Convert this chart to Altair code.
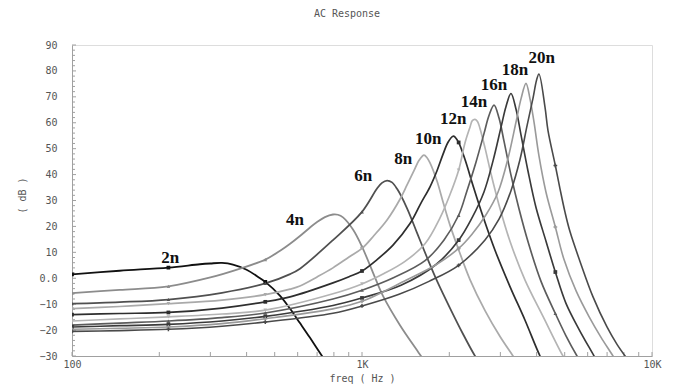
import altair as alt
import pandas as pd

# ---- data (frequency in Hz, magnitude in dB) ----
names = ["2n", "4n", "6n", "8n", "10n", "12n", "14n", "16n", "18n", "20n"]

f_2n = [100, 146, 215, 276, 300, 329, 359, 400, 444, 464, 522, 565, 611, 662, 728, 780]
db_2n = [1.5, 2.9, 4.1, 5.4, 5.7, 5.9, 5.3, 3.3, 0.1, -1.4, -6.8, -11.8, -17.3, -23.0, -30, -35]

f_4n = [100, 146, 215, 300, 380, 464, 522, 565, 611, 662, 700, 745, 794, 826, 860, 931, 1000, 1091, 1181, 1352, 1548, 1620]
db_4n = [-5.7, -4.5, -3.1, 0.3, 3.7, 7.2, 10.6, 13.3, 16.3, 19.6, 21.7, 23.6, 24.6, 24.5, 23.5, 18.8, 12.2, 2.2, -6.8, -18.1, -27.8, -31]

f_6n = [100, 146, 215, 329, 464, 565, 611, 794, 1000, 1127, 1172, 1220, 1269, 1321, 1430, 1548, 1676, 1814, 2011, 2230, 2453, 2552]
db_6n = [-9.8, -9.2, -8.2, -5.6, -2.0, 1.6, 3.7, 14.7, 25.6, 34.6, 36.8, 37.7, 37.0, 34.5, 27.0, 17.5, 8.0, -1.0, -11.5, -21.5, -30, -33]

f_8n = [100, 146, 215, 329, 464, 565, 611, 700, 794, 902, 1000, 1100, 1220, 1352, 1430, 1511, 1573, 1636, 1676, 1716, 1814, 1902, 2011, 2154, 2357, 2656, 2992, 3316, 3500]
db_8n = [-11.7, -10.9, -9.8, -8.4, -6.3, -4.2, -3.0, 0.5, 4.0, 8.2, 11.5, 16.5, 22.5, 30.5, 36.0, 41.5, 45.5, 47.5, 46.5, 44.5, 37.5, 29.5, 20.5, 11.0, -0.5, -12.5, -22.5, -30, -34]

f_10n = [100, 146, 215, 329, 464, 565, 794, 902, 1000, 1127, 1279, 1464, 1597, 1716, 1814, 1902, 1980, 2060, 2100, 2154, 2266, 2414, 2614, 2875, 3238, 3649, 4110, 4400]
db_10n = [-14.0, -13.6, -13.2, -11.5, -9.1, -7.2, -1.8, 0.6, 2.8, 7.2, 12.8, 21.1, 29.0, 35.3, 41.5, 47.8, 52.5, 54.8, 54.3, 52.4, 45.8, 35.8, 23.8, 10.8, -3.2, -16.2, -30, -36]

f_12n = [100, 146, 215, 329, 464, 794, 1000, 1191, 1407, 1649, 1858, 2011, 2154, 2266, 2357, 2401, 2453, 2502, 2552, 2656, 2785, 2968, 3238, 3649, 4209, 4933, 5200]
db_12n = [-16.5, -15.7, -14.9, -13.8, -12.3, -6.0, -2.2, 1.8, 6.5, 13.3, 23.3, 32.3, 41.7, 52.3, 58.3, 60.8, 61.3, 60.5, 57.8, 50.3, 40.3, 28.3, 14.3, -0.7, -14.7, -30, -34]

f_14n = [100, 146, 215, 329, 464, 794, 1000, 1289, 1650, 1918, 2154, 2302, 2472, 2634, 2741, 2853, 2968, 3089, 3264, 3478, 3766, 4143, 4642, 5051, 5513, 5800]
db_14n = [-18.1, -17.3, -16.5, -15.2, -13.4, -8.0, -4.6, 0.3, 6.8, 14.8, 24.3, 33.8, 44.8, 55.8, 62.8, 66.8, 61.8, 52.8, 39.8, 26.8, 12.8, -1.2, -13.6, -22.2, -30, -34]

f_16n = [100, 146, 215, 329, 464, 794, 1000, 1363, 1800, 2154, 2395, 2634, 2830, 3016, 3138, 3264, 3396, 3534, 3737, 3981, 4310, 4642, 5051, 5601, 6310, 6600]
db_16n = [-18.8, -18.3, -17.8, -16.5, -14.7, -10.5, -7.6, -2.7, 5.3, 14.7, 23.3, 33.3, 45.3, 58.3, 66.3, 71.3, 65.3, 55.3, 41.3, 27.3, 14.3, 2.4, -9.7, -19.7, -30, -34]

f_18n = [100, 146, 215, 329, 464, 794, 1000, 1418, 1800, 2154, 2395, 2677, 2944, 3187, 3396, 3534, 3677, 3796, 3919, 4076, 4310, 4642, 4973, 5469, 6065, 6672, 7337, 7700]
db_18n = [-19.7, -19.3, -18.8, -17.5, -15.6, -11.8, -8.9, -0.8, 5.2, 11.5, 17.0, 24.5, 33.2, 46.2, 60.2, 69.2, 75.2, 69.2, 60.2, 47.2, 33.2, 19.8, 7.2, -4.8, -14.8, -22.8, -30, -34]

f_20n = [100, 146, 215, 329, 464, 794, 1000, 1342, 1702, 2154, 2656, 2968, 3264, 3506, 3707, 3888, 4000, 4076, 4276, 4379, 4642, 4817, 5012, 5214, 5646, 6261, 6995, 7574, 8200]
db_20n = [-20.5, -20.2, -19.7, -18.5, -16.9, -13.5, -10.7, -6.2, -1.2, 5.0, 14.8, 22.8, 33.8, 45.8, 58.8, 69.5, 76.5, 78.8, 66.0, 57.0, 43.5, 34.5, 25.5, 18.0, 6.5, -7.2, -18.8, -25.5, -31]

# curve label positions
label_f = [218, 587, 1010, 1388, 1693, 2065, 2434, 2853, 3370, 4165]
label_db = [7.7, 22.4, 39.4, 46.2, 53.6, 61.3, 68.1, 74.5, 80.2, 85.1]

# frequencies carrying the small curve markers (1/3-decade points)
marker_f = [100, 215, 464, 1000, 2154, 4642]

# styling (grayscale, like the original plot)
colors = ["#111111", "#8c8c8c", "#505050", "#aaaaaa", "#2e2e2e",
          "#b4b4b4", "#5c5c5c", "#3a3a3a", "#9a9a9a", "#4a4a4a"]
widths = [1.8, 1.6, 1.6, 1.6, 1.6, 1.5, 1.4, 1.4, 1.2, 1.1]
shapes = ["square", "triangle-up", "triangle-up", "triangle-down", "square",
          "triangle-down", "triangle-up", "square", "cross", "cross"]

x_ticks = [100, 200, 300, 400, 500, 600, 700, 800, 900, 1000,
           2000, 3000, 4000, 5000, 6000, 7000, 8000, 9000, 10000]
x_labels = [100, 1000, 10000]
y_major = list(range(-30, 91, 10))
y_minor = [v for v in range(-30, 91, 2) if v % 10 != 0]

series = {
    "2n": (f_2n, db_2n), "4n": (f_4n, db_4n), "6n": (f_6n, db_6n),
    "8n": (f_8n, db_8n), "10n": (f_10n, db_10n), "12n": (f_12n, db_12n),
    "14n": (f_14n, db_14n), "16n": (f_16n, db_16n), "18n": (f_18n, db_18n),
    "20n": (f_20n, db_20n),
}
rows = []
for i, n in enumerate(names):
    fs, ds = series[n]
    for k, (f, d) in enumerate(zip(fs, ds)):
        rows.append({"curve": n, "order": i * 100 + k, "f": f, "db": d,
                     "marker": (f in marker_f) and (-30 <= d <= 90)})
df = pd.DataFrame(rows)
markers_df = df[df["marker"]].copy()
labels_df = pd.DataFrame({"curve": names, "f": label_f, "db": label_db})

xscale = alt.Scale(type="log", domain=[100, 10000], nice=False)
yscale = alt.Scale(domain=[-30, 90], nice=False, zero=False)
font = "DejaVu Sans Mono"
gray = "#555555"
axis_gray = "#a0a0a0"
color_scale = alt.Scale(domain=names, range=colors)

x_main = alt.Axis(
    orient="bottom", values=x_labels, ticks=False, grid=False, labelFlush=False,
    labelExpr="datum.value >= 10000 ? '10K' : (datum.value >= 1000 ? '1K' : '100')",
    labelFont=font, labelFontSize=10, labelColor=gray, labelPadding=3,
    domainColor=axis_gray, title="freq ( Hz )", titleFont=font,
    titleFontSize=10, titleFontWeight="normal", titleColor=gray,
    titleY=22, titleBaseline="middle",
)
y_main = alt.Axis(
    orient="left", values=y_major, ticks=False, grid=False,
    labelExpr="datum.value == 0 ? '0.0' : replace(format(datum.value, 'd'), '-', '\u2212')",
    labelFont=font, labelFontSize=10, labelColor=gray, labelPadding=15,
    domainColor=axis_gray, title="( dB )", titleFont=font, titleFontSize=10,
    titleFontWeight="normal", titleColor=gray, titleX=-50, titleY=150,
    titleAngle=270, titleAlign="center", titleBaseline="middle",
)

lines = alt.Chart(df).mark_line(interpolate="catmull-rom", clip=True).encode(
    x=alt.X("f:Q", scale=xscale, axis=x_main),
    y=alt.Y("db:Q", scale=yscale, axis=y_main),
    color=alt.Color("curve:N", scale=color_scale, legend=None),
    strokeWidth=alt.StrokeWidth("curve:N", scale=alt.Scale(domain=names, range=widths), legend=None),
    detail="curve:N",
    order="order:Q",
)

points = alt.Chart(markers_df).mark_point(filled=True, size=14, opacity=1, clip=True).encode(
    x=alt.X("f:Q", scale=xscale, axis=None),
    y=alt.Y("db:Q", scale=yscale, axis=None),
    color=alt.Color("curve:N", scale=color_scale, legend=None),
    shape=alt.Shape("curve:N", scale=alt.Scale(domain=names, range=shapes), legend=None),
)

texts = alt.Chart(labels_df).mark_text(
    font="Liberation Serif", fontSize=17, fontWeight="bold", color="#111111",
    align="center", baseline="middle",
).encode(
    x=alt.X("f:Q", scale=xscale, axis=None),
    y=alt.Y("db:Q", scale=yscale, axis=None),
    text="curve:N",
)

# inward-pointing axis ticks
yt_major = alt.Chart(pd.DataFrame({"v": y_major})).mark_rule(color=axis_gray, strokeWidth=1).encode(
    y=alt.Y("v:Q", scale=yscale, axis=None), x=alt.value(0), x2=alt.value(4))
yt_minor = alt.Chart(pd.DataFrame({"v": y_minor})).mark_rule(color=axis_gray, strokeWidth=1).encode(
    y=alt.Y("v:Q", scale=yscale, axis=None), x=alt.value(0), x2=alt.value(3))
xt = alt.Chart(pd.DataFrame({"v": x_ticks})).mark_rule(color=axis_gray, strokeWidth=1).encode(
    x=alt.X("v:Q", scale=xscale, axis=None), y=alt.value(311), y2=alt.value(307))

chart = alt.layer(yt_major, yt_minor, xt, lines, points, texts).resolve_axis(
    x="independent", y="independent"
).properties(
    width=580, height=311,
    autosize="none",
    padding={"left": 64, "top": 37, "right": 25, "bottom": 28},
    title=alt.Title("AC Response", fontSize=10, font=font, fontWeight="normal",
                    color=gray, anchor="middle", offset=21, dx=-15),
).configure_view(stroke=None).configure(background="white")

chart.save("out.html", embed_options={"renderer": "svg", "actions": False})
